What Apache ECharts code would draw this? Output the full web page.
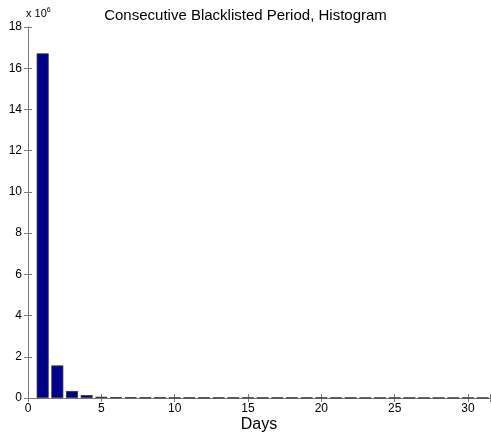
<!DOCTYPE html>
<html><head><meta charset="utf-8">
<script src="https://cdn.jsdelivr.net/npm/echarts@6/dist/echarts.min.js"></script>
<style>html,body{margin:0;padding:0;background:#fff}#c{width:491px;height:434px}</style>
</head><body><div id="c"></div>
<script>
// Days (bin centres) and counts (in millions)
const days = [1,2,3,4,5,6,7,8,9,10,11,12,13,14,15,16,17,18,19,20,21,22,23,24,25,26,27,28,29,30,31];
const counts = [16.72,1.58,0.34,0.14,0.06,0.035,0.03,0.025,0.025,0.02,0.02,0.02,0.018,0.018,0.016,0.016,0.015,0.015,0.014,0.014,0.013,0.013,0.012,0.012,0.012,0.011,0.011,0.01,0.01,0.01,0.01];
const xTicks = [0,5,10,15,20,25,30];
const yTicks = [0,2,4,6,8,10,12,14,16,18];
const titleText = 'Consecutive Blacklisted Period, Histogram';
const xLabel = 'Days';

const font = 'Liberation Sans, Arial, Helvetica, sans-serif';
const axisCol = '#7a7a7a';
const chart = echarts.init(document.getElementById('c'), null, {renderer:'canvas'});
const common = {
  axisLine:{show:true,lineStyle:{color:axisCol,width:1}},
  axisTick:{show:true,inside:true,length:4,lineStyle:{color:axisCol}},
  splitLine:{show:false}
};
chart.setOption({
  animation:false,
  backgroundColor:'#fff',
  title:{text:titleText,left:'center',top:3,textStyle:{fontFamily:font,fontSize:15,fontWeight:'normal',color:'#000'}},
  grid:{left:28,right:1,top:27,bottom:36,containLabel:false,outerBoundsMode:'none'},
  xAxis:[
    Object.assign({type:'value',min:0,max:31.5,interval:5,position:'bottom',
      name:xLabel,nameLocation:'middle',nameGap:19,nameMoveOverlap:false,
      nameTextStyle:{fontFamily:font,fontSize:16,color:'#000',verticalAlign:'top'},
      axisLabel:{fontFamily:font,fontSize:12,color:'#000',margin:5,
        formatter:v=>xTicks.includes(v)?String(v):''}},common),
    Object.assign({type:'value',min:0,max:31.5,interval:5,position:'top',axisLabel:{show:false}},common)
  ],
  yAxis:[
    Object.assign({type:'value',min:0,max:18,interval:2,position:'left',
      name:'x 10{sup|6}',nameLocation:'end',nameGap:7,
      nameTextStyle:{fontFamily:font,fontSize:11,color:'#000',align:'left',padding:[0,0,0,-2],
        rich:{sup:{fontSize:7,verticalAlign:'top',padding:[0,0,6,0],fontFamily:font}}},
      axisLabel:{fontFamily:font,fontSize:12,color:'#000',margin:6,
        formatter:v=>yTicks.includes(v)?String(v):''}},common),
    Object.assign({type:'value',min:0,max:18,interval:2,position:'right',axisLabel:{show:false}},common)
  ],
  series:[{
    type:'bar',
    xAxisIndex:0,yAxisIndex:0,
    barWidth:12,
    data:days.map((d,i)=>[d,counts[i]]),
    itemStyle:{color:'#00008f',borderColor:'#333',borderWidth:0.8}
  }]
});
</script></body></html>
